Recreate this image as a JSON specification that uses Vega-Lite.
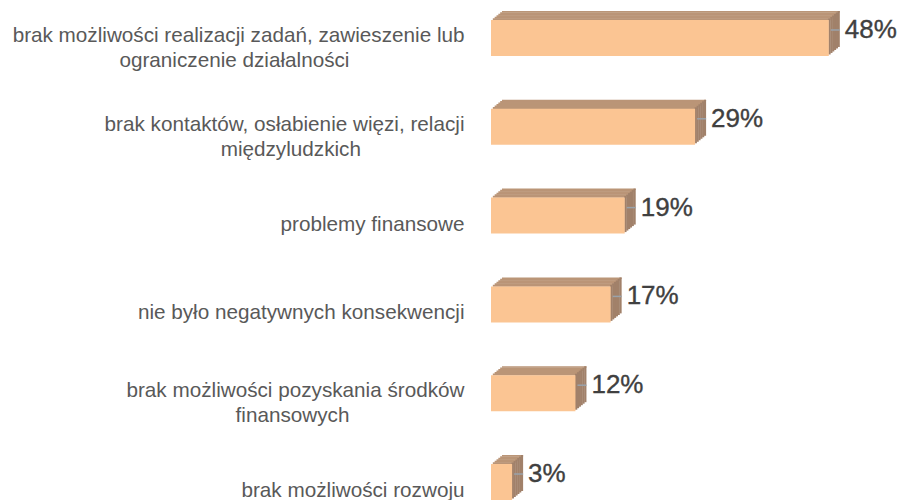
{
  "$schema": "https://vega.github.io/schema/vega-lite/v6.json",
  "autosize": {"type": "none"},
  "padding": {"left": 491, "top": 20, "right": 0, "bottom": 0},
  "width": 411,
  "height": 480,
  "background": "#ffffff",
  "config": {"view": {"stroke": null}},
  "data": {
    "values": [
      {"c": "brak możliwości realizacji zadań, zawieszenie lub|ograniczenie działalności\u2007\u2007\u2007\u2007\u2007\u2007\u2007\u2007\u2007\u2007\u200b", "v": 0.48},
      {"c": "brak kontaktów, osłabienie więzi, relacji|międzyludzkich\u2007\u2007\u2007\u2007\u2007\u2007\u2007\u2007\u2007\u200b", "v": 0.29},
      {"c": "problemy finansowe", "v": 0.19},
      {"c": "nie było negatywnych konsekwencji", "v": 0.17},
      {"c": "brak możliwości pozyskania środków|finansowych\u2007\u2007\u2007\u2007\u2007\u2007\u2007\u2007\u2007\u2007\u200b", "v": 0.12},
      {"c": "brak możliwości rozwoju", "v": 0.03}
    ]
  },
  "encoding": {
    "y": {
      "field": "c",
      "type": "nominal",
      "sort": null,
      "scale": {"paddingInner": 0.595, "paddingOuter": 0},
      "axis": {
        "title": null,
        "domain": false,
        "ticks": false,
        "labelPadding": 27,
        "labelLimit": 0,
        "labelFont": "Liberation Sans",
        "labelFontSize": 20.7,
        "labelColor": "#595959",
        "labelLineHeight": 25,
        "labelOffset": {"condition": {"test": "indexof(datum.value, '|') >= 0", "value": -2}, "value": 9},
        "labelExpr": "split(datum.value, '|')"
      }
    },
    "x": {
      "field": "v",
      "type": "quantitative",
      "scale": {"domain": [0, 0.584], "nice": false, "zero": true},
      "axis": null
    }
  },
  "layer": [
    {"mark": {"type": "bar", "height": 2, "color": "#BA9577", "yOffset": -18.75, "xOffset": 1.833, "x2Offset": 1.833}, "encoding": {"x2": {"datum": 0}}},
    {"mark": {"type": "bar", "height": 2, "color": "#BA9577", "yOffset": -20.25, "xOffset": 3.667, "x2Offset": 3.667}, "encoding": {"x2": {"datum": 0}}},
    {"mark": {"type": "bar", "height": 2, "color": "#BA9577", "yOffset": -21.75, "xOffset": 5.5, "x2Offset": 5.5}, "encoding": {"x2": {"datum": 0}}},
    {"mark": {"type": "bar", "height": 2, "color": "#BA9577", "yOffset": -23.25, "xOffset": 7.333, "x2Offset": 7.333}, "encoding": {"x2": {"datum": 0}}},
    {"mark": {"type": "bar", "height": 2, "color": "#BA9577", "yOffset": -24.75, "xOffset": 9.167, "x2Offset": 9.167}, "encoding": {"x2": {"datum": 0}}},
    {"mark": {"type": "bar", "height": 1.5, "color": "#BA9577", "yOffset": -26.25, "xOffset": 11, "x2Offset": 11}, "encoding": {"x2": {"datum": 0}}},
    {"mark": {"type": "bar", "color": "#A1816A", "yOffset": -1.5, "xOffset": 1.833, "x2Offset": -0.5}, "encoding": {"x2": {"field": "v"}}},
    {"mark": {"type": "bar", "color": "#A1816A", "yOffset": -3, "xOffset": 3.667, "x2Offset": 1.5}, "encoding": {"x2": {"field": "v"}}},
    {"mark": {"type": "bar", "color": "#A1816A", "yOffset": -4.5, "xOffset": 5.5, "x2Offset": 3.3}, "encoding": {"x2": {"field": "v"}}},
    {"mark": {"type": "bar", "color": "#A1816A", "yOffset": -6, "xOffset": 7.333, "x2Offset": 5.1}, "encoding": {"x2": {"field": "v"}}},
    {"mark": {"type": "bar", "color": "#A1816A", "yOffset": -7.5, "xOffset": 9.167, "x2Offset": 7}, "encoding": {"x2": {"field": "v"}}},
    {"mark": {"type": "bar", "color": "#A1816A", "yOffset": -9, "xOffset": 11, "x2Offset": 8.8}, "encoding": {"x2": {"field": "v"}}},
    {"mark": {"type": "bar", "color": "#FBC593"}, "encoding": {"x2": {"datum": 0}}},
    {"mark": {"type": "rule", "color": "#9AA3AB", "strokeWidth": 1.5, "yOffset": -8, "xOffset": 2, "x2Offset": 11}, "encoding": {"x2": {"field": "v"}}},
    {
      "mark": {"type": "text", "align": "left", "baseline": "middle", "dx": 16, "dy": -8, "font": "Liberation Sans", "fontSize": 26, "color": "#404040", "stroke": "#404040", "strokeWidth": 0.35},
      "encoding": {"text": {"field": "v", "type": "quantitative", "format": ".0%"}}
    }
  ]
}
